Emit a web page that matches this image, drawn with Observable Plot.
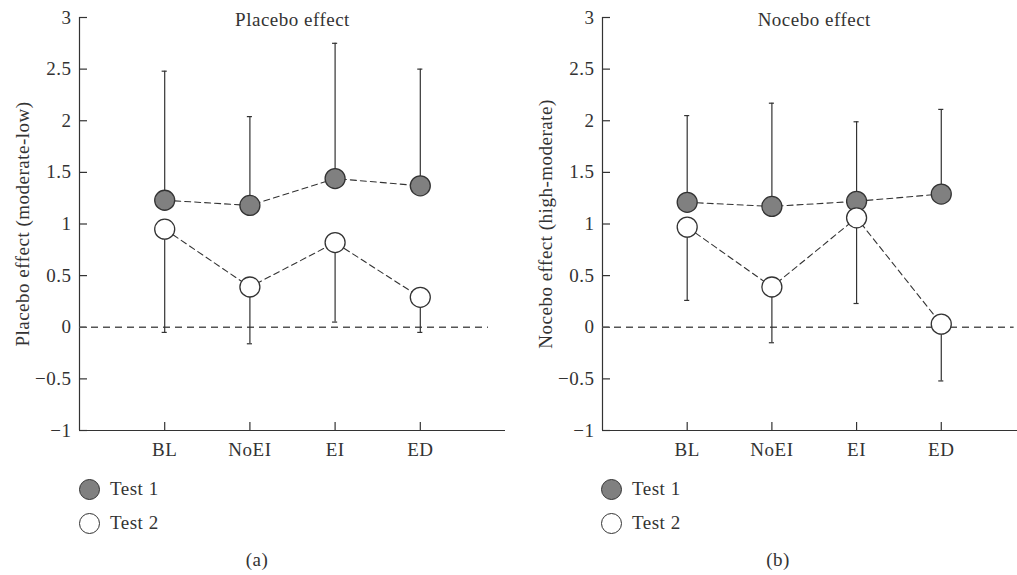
<!DOCTYPE html>
<html>
<head>
<meta charset="utf-8">
<script src="https://cdn.jsdelivr.net/npm/d3@7"></script>
<script src="https://cdn.jsdelivr.net/npm/@observablehq/plot@0.6"></script>
<style>
  html, body { margin: 0; padding: 0; background: #fff; overflow: hidden; }
  #wrap { position: relative; width: 1017px; height: 575px; font-family: "Liberation Serif", serif; color: #333; letter-spacing: 0.5px; }
  .panel { position: absolute; top: 0; }
  .legend { position: absolute; font-size: 19px; }
  .legend .row { position: absolute; white-space: nowrap; display: flex; align-items: center; }
  .legend .sw { width: 21px; height: 21px; border-radius: 50%; border: 1.3px solid #333; box-sizing: border-box; margin-right: 10px; }
  .cap { position: absolute; font-size: 19px; transform: translateX(-50%); }
</style>
</head>
<body>
<div id="wrap"></div>
<script>
const categories = ["BL", "NoEI", "EI", "ED"];
const series = ["Test 1", "Test 2"];
const yTicks = [-1, -0.5, 0, 0.5, 1, 1.5, 2, 2.5, 3];
const yTickLabels = ["\u22121", "\u22120.5", "0", "0.5", "1", "1.5", "2", "2.5", "3"];

// Panel (a) Placebo effect
const placeboTest1 = [1.23, 1.18, 1.44, 1.37];
const placeboTest1Upper = [2.48, 2.04, 2.75, 2.50];
const placeboTest2 = [0.95, 0.39, 0.82, 0.29];
const placeboTest2Lower = [-0.05, -0.16, 0.05, -0.05];

// Panel (b) Nocebo effect
const noceboTest1 = [1.21, 1.17, 1.22, 1.29];
const noceboTest1Upper = [2.05, 2.17, 1.99, 2.11];
const noceboTest2 = [0.97, 0.39, 1.06, 0.03];
const noceboTest2Lower = [0.26, -0.15, 0.23, -0.52];

const INK = "#333";
const GRAYFILL = "#808080";
const FONT = "Liberation Serif, serif";
const FS = 19;

function rows(v1, e1, v2, e2) {
  const out = [];
  categories.forEach((c, i) => out.push({cat: c, x: i + 1, s: series[0], v: v1[i], e: e1[i]}));
  categories.forEach((c, i) => out.push({cat: c, x: i + 1, s: series[1], v: v2[i], e: e2[i]}));
  return out;
}

function panel({data, title, ylabel, width, marginLeft, marginRight, xmax, zeroEnd}) {
  const t1 = data.filter(d => d.s === series[0]);
  const t2 = data.filter(d => d.s === series[1]);
  const capW = 0.03;
  const tickLen = 8;
  const pxPerX = (width - marginLeft - marginRight) / xmax;
  const pxPerY = (460 - 17 - 30) / 4;
  return Plot.plot({
    width, height: 460,
    marginLeft, marginRight, marginTop: 17, marginBottom: 30,
    style: {fontFamily: FONT, fontSize: FS + "px", color: INK, background: "transparent", overflow: "visible", letterSpacing: "0.5px"},
    x: {domain: [0, xmax], axis: null},
    y: {domain: [-1, 3], axis: null},
    marks: [
      // axis lines
      Plot.ruleX([0], {stroke: INK, strokeWidth: 1.2}),
      Plot.ruleY([-1], {x1: 0, x2: xmax, stroke: INK, strokeWidth: 1.2}),
      // y ticks (inward) and labels
      Plot.ruleY(yTicks, {x1: 0, x2: tickLen / pxPerX, stroke: INK, strokeWidth: 1.2}),
      Plot.text(yTicks, {x: 0, y: d => d, text: (d, i) => yTickLabels[i], textAnchor: "end", dx: -8, fill: INK, fontSize: FS}),
      // x ticks (inward) and labels
      Plot.ruleX(categories.map((c, i) => i + 1), {y1: -1, y2: -1 + tickLen / pxPerY, stroke: INK, strokeWidth: 1.2}),
      Plot.text(categories, {x: (d, i) => i + 1, y: -1, text: d => d, dy: 19, fill: INK, fontSize: FS, lineAnchor: "middle"}),
      // zero reference line
      Plot.ruleY([0], {x1: 0, x2: zeroEnd, stroke: "#555", strokeWidth: 1.3, strokeDasharray: "7,5"}),
      // error bars
      Plot.ruleX(data, {x: "x", y1: "v", y2: "e", stroke: INK, strokeWidth: 1.2}),
      Plot.ruleY(data, {y: "e", x1: d => d.x - capW, x2: d => d.x + capW, stroke: INK, strokeWidth: 1.2}),
      // connecting lines
      Plot.line(t1, {x: "x", y: "v", stroke: INK, strokeWidth: 1.1, strokeDasharray: "6,4"}),
      Plot.line(t2, {x: "x", y: "v", stroke: INK, strokeWidth: 1.1, strokeDasharray: "6,4"}),
      // points
      Plot.dot(t1, {x: "x", y: "v", r: 10, fill: GRAYFILL, stroke: INK, strokeWidth: 1.3}),
      Plot.dot(t2, {x: "x", y: "v", r: 10, fill: "white", stroke: INK, strokeWidth: 1.3}),
      // title
      Plot.text([title], {x: 2.5, y: 3, text: d => d, dy: 2, lineAnchor: "middle", fill: INK, fontSize: FS}),
      // y label
      Plot.text([ylabel], {x: 0, y: 1, text: d => d, rotate: -90, dx: -57, fill: INK, fontSize: FS})
    ]
  });
}

const wrap = document.getElementById("wrap");

const left = panel({
  data: rows(placeboTest1, placeboTest1Upper, placeboTest2, placeboTest2Lower),
  title: "Placebo effect", ylabel: "Placebo effect (moderate-low)",
  width: 510, marginLeft: 79, marginRight: 5, xmax: 5, zeroEnd: 4.8
});
left.classList.add("panel");
left.style.left = "0px";
wrap.appendChild(left);

const right = panel({
  data: rows(noceboTest1, noceboTest1Upper, noceboTest2, noceboTest2Lower),
  title: "Nocebo effect", ylabel: "Nocebo effect (high-moderate)",
  width: 509, marginLeft: 94, marginRight: 0, xmax: 4.9, zeroEnd: 4.86
});
right.classList.add("panel");
right.style.left = "508px";
wrap.appendChild(right);

function legend(x, capX, capText) {
  const lg = document.createElement("div");
  lg.className = "legend";
  lg.style.left = x + "px";
  lg.style.top = "0px";
  [[series[0], GRAYFILL, 478], [series[1], "#fff", 512]].forEach(([name, fill, top]) => {
    const row = document.createElement("div");
    row.className = "row";
    row.style.top = top + "px";
    row.style.left = "0px";
    const sw = document.createElement("span");
    sw.className = "sw";
    sw.style.background = fill;
    const tx = document.createElement("span");
    tx.textContent = name;
    row.appendChild(sw); row.appendChild(tx);
    lg.appendChild(row);
  });
  wrap.appendChild(lg);
  const cap = document.createElement("div");
  cap.className = "cap";
  cap.style.left = capX + "px";
  cap.style.top = "549px";
  cap.textContent = capText;
  wrap.appendChild(cap);
}
legend(79, 257, "(a)");
legend(601, 778, "(b)");
</script>
</body>
</html>
